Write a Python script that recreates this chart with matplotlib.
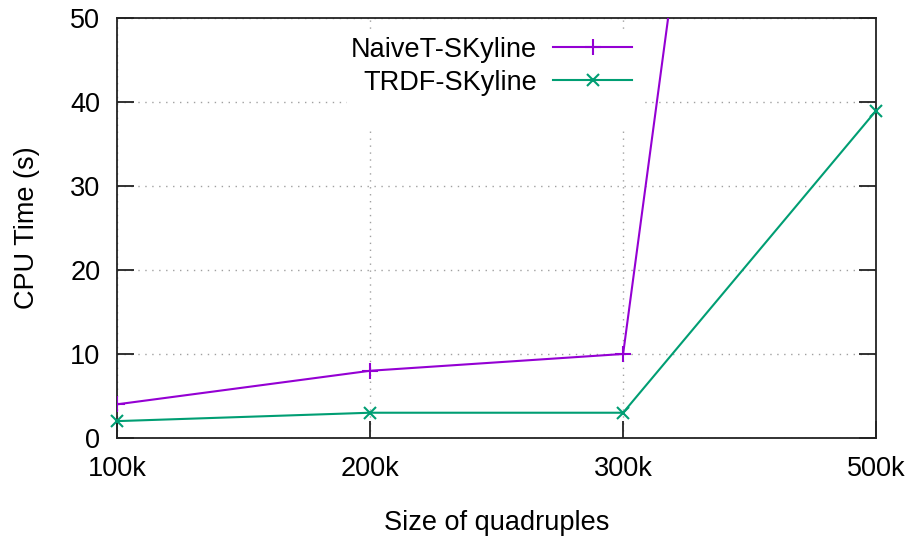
"""
Recreate CPU time vs. size of quadruples line chart (gnuplot style).
Output: out.png
"""

import matplotlib
matplotlib.use("Agg")
import matplotlib.pyplot as plt
from matplotlib.patches import Rectangle
import numpy as np


SIZES = ["100k", "200k", "300k", "500k"]
NAIVE_TIME = [4, 8, 10, 235]
TRDF_TIME = [2, 3, 3, 39]
Y_TICKS = [0, 10, 20, 30, 40, 50]

FONT_SIZE = 19.5


def main():
    plt.rcParams["font.family"] = ["Liberation Sans", "DejaVu Sans"]

    fig = plt.figure(figsize=(9.07, 5.36), dpi=100)
    ax = fig.add_axes([0.129, 0.183, 0.837, 0.783])

    x = np.arange(len(SIZES))

    ax.plot(x, NAIVE_TIME, color="#9400d3", linewidth=1.5, marker="+",
            markersize=11, markeredgewidth=1.5, label="NaiveT-SKyline",
            zorder=3)
    ax.plot(x, TRDF_TIME, color="#009e73", linewidth=1.5, marker="x",
            markersize=9, markeredgewidth=1.5, label="TRDF-SKyline",
            clip_on=False, zorder=3)

    ax.set_xlim(0, len(SIZES) - 1)
    ax.set_ylim(0, 50)
    ax.set_xticks(x)
    ax.set_xticklabels(SIZES)
    ax.set_yticks(Y_TICKS)

    # gnuplot-like dotted grid
    ax.grid(True, color="#a0a0a0", linestyle=(0, (1, 4)), linewidth=1.0)
    ax.set_axisbelow(True)

    # white key area hides the grid behind the legend, as gnuplot does
    ax.add_patch(Rectangle((0.303, 0.743), 0.391, 0.221, transform=ax.transAxes,
                           facecolor="white", edgecolor="none", zorder=1))

    for spine in ax.spines.values():
        spine.set_linewidth(1.3)
        spine.set_color("#222222")

    ax.tick_params(axis="both", direction="in", length=12, width=1.3,
                   labelsize=FONT_SIZE, color="#222222")
    ax.tick_params(axis="x", pad=13, top=False)
    ax.tick_params(axis="y", pad=12, right=True)

    ax.set_xlabel("Size of quadruples", fontsize=FONT_SIZE, labelpad=20)
    ax.set_ylabel("CPU Time (s)", fontsize=FONT_SIZE, labelpad=22)

    leg = ax.legend(loc="upper right", bbox_to_anchor=(0.689, 0.975),
                    borderaxespad=0, borderpad=0.3, markerfirst=False,
                    frameon=False, fontsize=FONT_SIZE,
                    handlelength=2.9, handletextpad=0.6, labelspacing=0.25)
    leg.set_zorder(4)

    fig.savefig("out.png", dpi=100)
    plt.close(fig)


if __name__ == "__main__":
    main()
